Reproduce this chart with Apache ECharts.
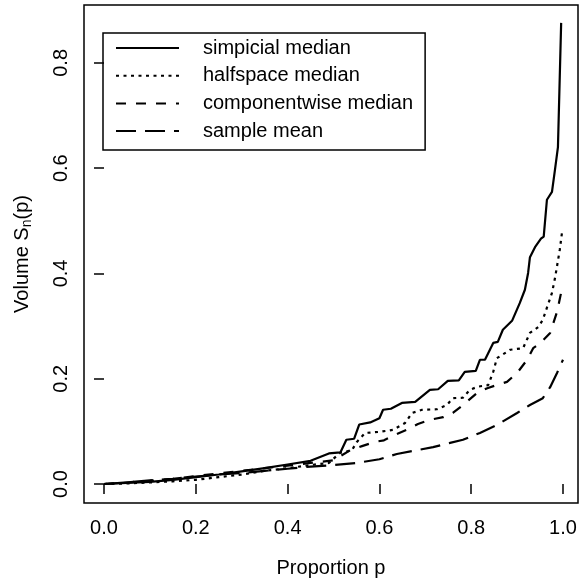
<!DOCTYPE html>
<html>
<head>
<meta charset="utf-8">
<script src="https://cdn.jsdelivr.net/npm/echarts@6/dist/echarts.min.js"></script>
<style>
html,body{margin:0;padding:0;background:#fff;}
#chart{width:579px;height:580px;}
</style>
</head>
<body>
<div id="chart"></div>
<script>
// ---- Data ----
const seriesNames = ['simpicial median', 'halfspace median', 'componentwise median', 'sample mean'];

const pSimplicial = [0.00,0.05,0.10,0.15,0.20,0.25,0.30,0.35,0.40,0.45,0.49,0.515,0.528,0.545,0.556,0.58,0.60,0.608,0.625,0.649,0.678,0.71,0.728,0.749,0.773,0.786,0.81,0.819,0.83,0.848,0.858,0.869,0.889,0.906,0.917,0.924,0.928,0.939,0.952,0.958,0.965,0.976,0.983,0.989,0.996];
const vSimplicial = [0.000,0.002,0.004,0.008,0.013,0.018,0.024,0.030,0.037,0.044,0.058,0.060,0.084,0.086,0.113,0.117,0.125,0.141,0.143,0.154,0.156,0.179,0.180,0.196,0.197,0.213,0.215,0.236,0.236,0.268,0.270,0.293,0.310,0.344,0.369,0.401,0.431,0.450,0.466,0.470,0.540,0.555,0.600,0.640,0.876];

const pHalfspace = [0.00,0.05,0.10,0.15,0.20,0.25,0.30,0.35,0.40,0.45,0.49,0.514,0.54,0.551,0.569,0.60,0.63,0.656,0.671,0.693,0.725,0.747,0.760,0.782,0.797,0.815,0.837,0.848,0.856,0.885,0.913,0.928,0.946,0.956,0.976,0.983,0.993,0.998];
const vHalfspace = [0.000,0.001,0.003,0.005,0.008,0.013,0.018,0.025,0.030,0.036,0.040,0.059,0.064,0.080,0.097,0.099,0.103,0.116,0.135,0.141,0.142,0.150,0.163,0.164,0.179,0.185,0.188,0.213,0.239,0.255,0.258,0.287,0.298,0.312,0.363,0.393,0.445,0.479];

const pComponent = [0.00,0.05,0.10,0.15,0.20,0.25,0.30,0.35,0.40,0.45,0.50,0.538,0.562,0.590,0.61,0.638,0.66,0.684,0.71,0.739,0.76,0.782,0.813,0.835,0.856,0.878,0.900,0.922,0.935,0.95,0.972,0.987,0.998];
const vComponent = [0.000,0.003,0.006,0.010,0.015,0.020,0.025,0.030,0.035,0.040,0.045,0.065,0.072,0.080,0.083,0.095,0.103,0.114,0.122,0.127,0.135,0.150,0.173,0.182,0.188,0.194,0.211,0.236,0.258,0.267,0.287,0.327,0.372];

const pMean = [0.00,0.05,0.10,0.15,0.20,0.25,0.30,0.35,0.40,0.45,0.50,0.55,0.60,0.638,0.68,0.717,0.754,0.782,0.819,0.856,0.90,0.928,0.956,0.972,0.987,1.0];
const vMean = [0.000,0.003,0.007,0.010,0.014,0.018,0.021,0.025,0.029,0.033,0.036,0.040,0.047,0.057,0.064,0.070,0.078,0.084,0.097,0.112,0.135,0.150,0.163,0.184,0.211,0.236];

const xTicks = [0, 0.2, 0.4, 0.6, 0.8, 1.0];
const yTicks = [0, 0.2, 0.4, 0.6, 0.8];

// ---- Chart ----
const zip = (a, b) => a.map((x, i) => [x, b[i]]);
const FONT = 'Liberation Sans, Arial, Helvetica, sans-serif';
const FS = 20;
const styles = [
  { type: 'solid' },
  { type: [3, 4.5] },
  { type: [10, 10] },
  { type: [20, 9] }
];
const dataSets = [zip(pSimplicial, vSimplicial), zip(pHalfspace, vHalfspace), zip(pComponent, vComponent), zip(pMean, vMean)];

const chart = echarts.init(document.getElementById('chart'), null, { renderer: 'canvas' });
chart.setOption({
  animation: false,
  backgroundColor: '#fff',
  textStyle: { fontFamily: FONT },
  grid: {
    left: 84, top: 5, width: 494, height: 498,
    containLabel: false,
    outerBoundsMode: 'none',
    show: true, borderColor: '#000', borderWidth: 1.5, backgroundColor: 'transparent'
  },
  legend: {
    orient: 'vertical',
    left: 103, top: 33,
    selectedMode: false,
    borderColor: '#000', borderWidth: 1.5,
    padding: [5, 12, 9, 12],
    itemWidth: 63, itemHeight: 14, itemGap: 7.7,
    itemStyle: { color: 'transparent', borderColor: 'transparent', borderWidth: 0, opacity: 0 },
    textStyle: { fontSize: FS, lineHeight: 20, color: '#000', fontFamily: FONT, padding: [0, 0, 0, 19] },
    data: seriesNames
  },
  xAxis: {
    type: 'value',
    min: -0.0436, max: 1.0327,
    axisLine: { show: false },
    splitLine: { show: false },
    axisTick: { show: true, customValues: xTicks, length: 10, lineStyle: { color: '#000', width: 1.5 } },
    axisLabel: { customValues: xTicks, formatter: v => v.toFixed(1), fontSize: FS, color: '#000', margin: 15, fontFamily: FONT },
    name: 'Proportion p', nameLocation: 'middle', nameGap: 55,
    nameTextStyle: { fontSize: FS, color: '#000', fontFamily: FONT }
  },
  yAxis: {
    type: 'value',
    min: -0.0361, max: 0.910,
    axisLine: { show: false },
    splitLine: { show: false },
    axisTick: { show: true, customValues: yTicks, length: 10, lineStyle: { color: '#000', width: 1.5 } },
    axisLabel: { customValues: yTicks, formatter: v => v.toFixed(1), fontSize: FS, color: '#000', rotate: 90, margin: 13, fontFamily: FONT },
    name: '{a|Volume S}{b|n}{a|(p)}', nameLocation: 'middle', nameRotate: 90, nameGap: 50,
    nameTextStyle: {
      rich: {
        a: { fontSize: FS, color: '#000', fontFamily: FONT },
        b: { fontSize: 14, color: '#000', fontFamily: FONT, padding: [9, 0, 0, 0] }
      }
    }
  },
  series: seriesNames.map((name, i) => ({
    name: name,
    type: 'line',
    symbol: 'none',
    showSymbol: false,
    data: dataSets[i],
    lineStyle: Object.assign({ color: '#000', width: 2.2 }, styles[i]),
    itemStyle: { color: '#000' }
  }))
});
</script>
</body>
</html>
